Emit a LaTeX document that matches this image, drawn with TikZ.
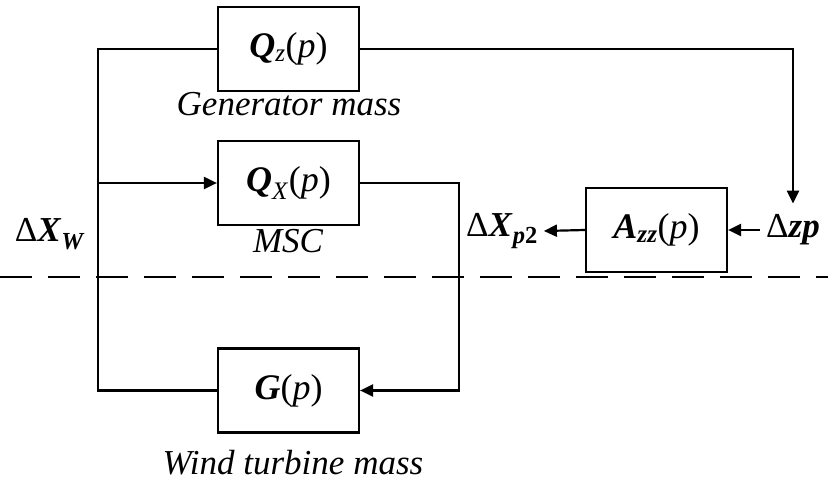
\documentclass[tikz,border=0pt]{standalone}
\usepackage{fontspec}
\setmainfont{Liberation Serif}
\usetikzlibrary{arrows.meta}
\newcommand\bi[1]{\textbf{\textit{#1}}}
\begin{document}
\begin{tikzpicture}[x=1pt,y=-1pt, line width=2.2pt,
 blk/.style={draw, minimum width=141pt, minimum height=84pt, inner sep=0pt, font=\fontsize{36}{40}\selectfont},
 lbl/.style={font=\fontsize{35}{40}\selectfont\itshape, inner sep=0pt},
 sig/.style={font=\fontsize{35}{40}\selectfont, inner sep=5pt},
 arr/.style={-{Triangle[length=13pt,width=12pt]}},
 dsh/.style={dash pattern=on 32pt off 16pt}]
\useasboundingbox (0,0) rectangle (828,481);
\node[blk] (qz) at (288.5,49) {\bi{Q}\textsubscript{\textit{z}}(\textit{p})};
\node[lbl] (lqz) at (289,104) {Generator mass};
\node[blk] (qx) at (288.5,183) {\bi{Q}\textsubscript{\textit{X}}(\textit{p})};
\node[lbl] (lqx) at (288,241) {MSC};
\node[blk] (g) at (288.5,390.5) {\bi{G}(\textit{p})};
\node[lbl] (lg) at (293,463) {Wind turbine mass};
\node[blk] (azz) at (656.5,230) {\bi{A}\textsubscript{\bi{zz}}(\textit{p})};
\node[sig] (dxw) at (50,234) {Δ\bi{X}\textsubscript{\bi{W}}};
\node[sig] (dxp) at (502,231) {Δ\bi{X}\textsubscript{\bi{p}\textbf{2}}};
\node[sig] (dzp) at (793,230) {Δ\bi{zp}};
\coordinate (lt) at (98,49);
\coordinate (lm) at (98,183);
\coordinate (lb) at (98,390.5);
\coordinate (rq) at (459,183);
\coordinate (dl) at (0,277);
\coordinate (dr) at (828,277);
\draw (qz.west) -- (lt) -- (lb) -- (g.west);
\draw[arr] (lm) -- (qx.west);
\draw[arr] (qx.east) -- (rq) |- (g.east);
\draw[arr, shorten >=5pt] (qz.east) -| (dzp.north);
\draw[arr] (dzp.west) -- (azz.east);
\draw[arr] (azz.west) -- (dxp.east);
\draw[dsh] (dl) -- (dr);
\end{tikzpicture}
\end{document}
